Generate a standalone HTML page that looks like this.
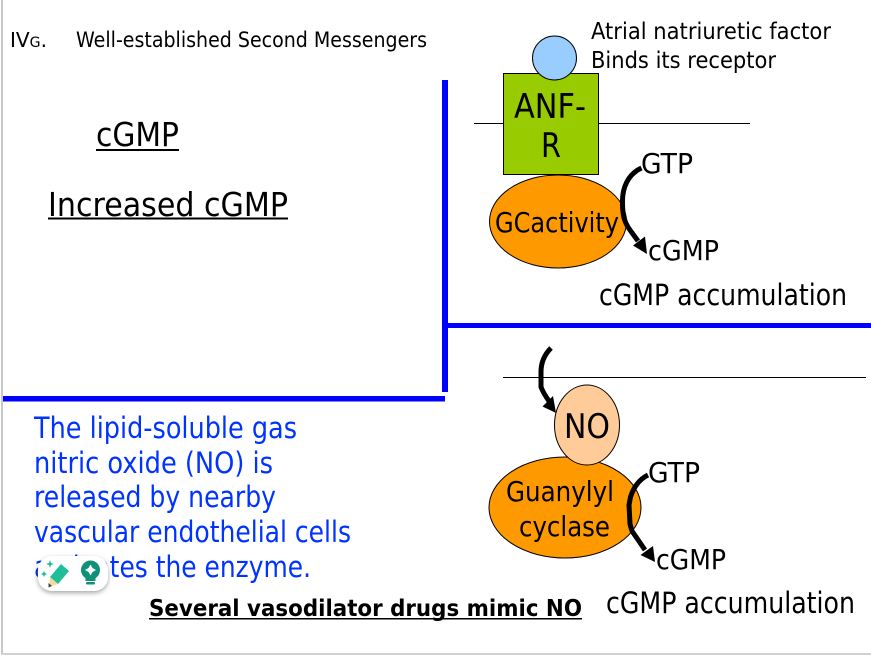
<!DOCTYPE html>
<html><head><meta charset="utf-8"><style>
html,body{margin:0;padding:0;background:#fff;width:871px;height:655px;overflow:hidden}
svg{display:block}
text{font-family:"DejaVu Sans","Liberation Sans",sans-serif;fill:#000}
</style></head><body>
<svg width="871" height="655" viewBox="0 0 871 655" xmlns="http://www.w3.org/2000/svg">
<defs><filter id="s" x="-30%" y="-30%" width="160%" height="180%"><feDropShadow dx="0" dy="2" stdDeviation="2.5" flood-color="#000" flood-opacity=".35"/></filter></defs>
<rect width="871" height="655" fill="#fff"/>
<rect x="1" y="0" width="2" height="654" fill="#c8c8c8"/>
<rect x="1" y="653" width="870" height="2" fill="#d0d0d0"/>

<text x="10" y="47" font-size="20" textLength="37" lengthAdjust="spacingAndGlyphs">IV<tspan font-size="14">G</tspan>.</text>
<text x="76" y="47" font-size="21" textLength="351" lengthAdjust="spacingAndGlyphs">Well-established Second Messengers</text>
<text x="96" y="146" font-size="33" textLength="83" lengthAdjust="spacingAndGlyphs">cGMP</text>
<rect x="96" y="149" width="83" height="2"/>
<text x="48" y="216" font-size="33" textLength="240" lengthAdjust="spacingAndGlyphs">Increased cGMP</text>
<rect x="48" y="217.500" width="240" height="2"/>

<rect x="442" y="80" width="6" height="312" fill="#0000ff"/>
<rect x="447" y="323" width="424" height="5" fill="#0000ff"/>
<rect x="3" y="396" width="442" height="5.500" fill="#0000ff"/>

<line x1="474" y1="123.500" x2="750" y2="123.500" stroke="#000" stroke-width="1"/>
<rect x="503.500" y="73.500" width="95" height="101" fill="#99cc00" stroke="#000" stroke-width="1"/>
<circle cx="554.500" cy="58" r="22" fill="#99ccff" stroke="#000" stroke-width="1"/>
<ellipse cx="558" cy="221.500" rx="68.500" ry="46.500" fill="#ff9900" stroke="#000" stroke-width="1"/>
<text x="591" y="39" font-size="23.500" textLength="240" lengthAdjust="spacingAndGlyphs">Atrial natriuretic factor</text>
<text x="591" y="68" font-size="23.500" textLength="185" lengthAdjust="spacingAndGlyphs">Binds its receptor</text>
<text x="514" y="118" font-size="34" textLength="72" lengthAdjust="spacingAndGlyphs">ANF-</text>
<text x="541" y="157" font-size="34" textLength="20" lengthAdjust="spacingAndGlyphs">R</text>
<text x="495" y="232" font-size="28" textLength="124" lengthAdjust="spacingAndGlyphs">GCactivity</text>
<text x="641" y="173" font-size="28" textLength="52" lengthAdjust="spacingAndGlyphs">GTP</text>
<text x="648" y="260" font-size="28" textLength="71" lengthAdjust="spacingAndGlyphs">cGMP</text>
<text x="599" y="305" font-size="29" textLength="248" lengthAdjust="spacingAndGlyphs">cGMP accumulation</text>
<path d="M641.500 168 C628 174 622 188 622.500 203 C622.500 214 624 222 630 230 L638 241" fill="none" stroke="#000" stroke-width="5"/>
<polygon points="647,254 633,245.500 645,236.500" fill="#000"/>

<line x1="503" y1="377.500" x2="866" y2="377.500" stroke="#000" stroke-width="1"/>
<ellipse cx="565" cy="507.500" rx="76" ry="50.500" fill="#ff9900" stroke="#000" stroke-width="1"/>
<ellipse cx="587" cy="425" rx="32.500" ry="40" fill="#ffcc99" stroke="#000" stroke-width="1"/>
<text x="564" y="438" font-size="34" textLength="46" lengthAdjust="spacingAndGlyphs">NO</text>
<text x="506" y="501" font-size="28" textLength="108" lengthAdjust="spacingAndGlyphs">Guanylyl</text>
<text x="519" y="536" font-size="28" textLength="91" lengthAdjust="spacingAndGlyphs">cyclase</text>
<text x="648" y="482" font-size="28" textLength="52" lengthAdjust="spacingAndGlyphs">GTP</text>
<text x="656" y="569" font-size="28" textLength="70" lengthAdjust="spacingAndGlyphs">cGMP</text>
<text x="606" y="613" font-size="29" textLength="249" lengthAdjust="spacingAndGlyphs">cGMP accumulation</text>
<path d="M648 475 C640 479 634 486 630.500 497 L629 505 L630 524 L632 531 L645 550" fill="none" stroke="#000" stroke-width="5"/>
<polygon points="655,562 640.500,555 653,546" fill="#000"/>

<path d="M551 348 C545 354 541 362 541 372 L541 387 C543 392 546 397 549 401" fill="none" stroke="#000" stroke-width="5"/>
<polygon points="556,413 542.500,406.500 553,396" fill="#000"/>

<g>
<text x="34" y="438" font-size="29" textLength="263" lengthAdjust="spacingAndGlyphs" style="fill:#0033ff">The lipid-soluble gas</text>
<text x="34" y="473" font-size="29" textLength="239" lengthAdjust="spacingAndGlyphs" style="fill:#0033ff">nitric oxide (NO) is</text>
<text x="34" y="507" font-size="29" textLength="242" lengthAdjust="spacingAndGlyphs" style="fill:#0033ff">released by nearby</text>
<text x="34" y="542" font-size="29" textLength="317" lengthAdjust="spacingAndGlyphs" style="fill:#0033ff">vascular endothelial cells</text>
<text x="34" y="577" font-size="29" textLength="277" lengthAdjust="spacingAndGlyphs" style="fill:#0033ff">activates the enzyme.</text>
</g>
<text x="149" y="616" font-size="23.500" font-weight="bold" textLength="433" lengthAdjust="spacingAndGlyphs">Several vasodilator drugs mimic NO</text>
<rect x="149" y="618" width="433" height="1.500"/>

<rect x="38" y="556" width="70" height="35" rx="14" fill="#fff" filter="url(#s)"/>
<polygon points="61,564 69,571 58,584 50,577" fill="#1cbf97"/>
<polygon points="50,577 58,584 49,587" fill="#f2d9a0"/>
<polygon points="48.500,583 52,586 48.500,587.500" fill="#444"/>
<polygon points="50,560 51,563 54,564 51,565 50,568 49,565 46,564 49,563" fill="#1cbf97"/>
<polygon points="44,571 45,573 47,574 45,575 44,577 43,575 41,574 43,573" fill="#1cbf97"/>
<circle cx="90.500" cy="570" r="9.500" fill="#0f9178"/>
<rect x="85.500" y="577" width="10" height="4" fill="#0f9178"/>
<rect x="86" y="582" width="9" height="2.500" rx="1" fill="#0f9178"/>
<polygon points="90.500,564.500 92.500,568 96,570 92.500,572 90.500,575.500 88.500,572 85,570 88.500,568" fill="#fff"/>
</svg>
</body></html>
